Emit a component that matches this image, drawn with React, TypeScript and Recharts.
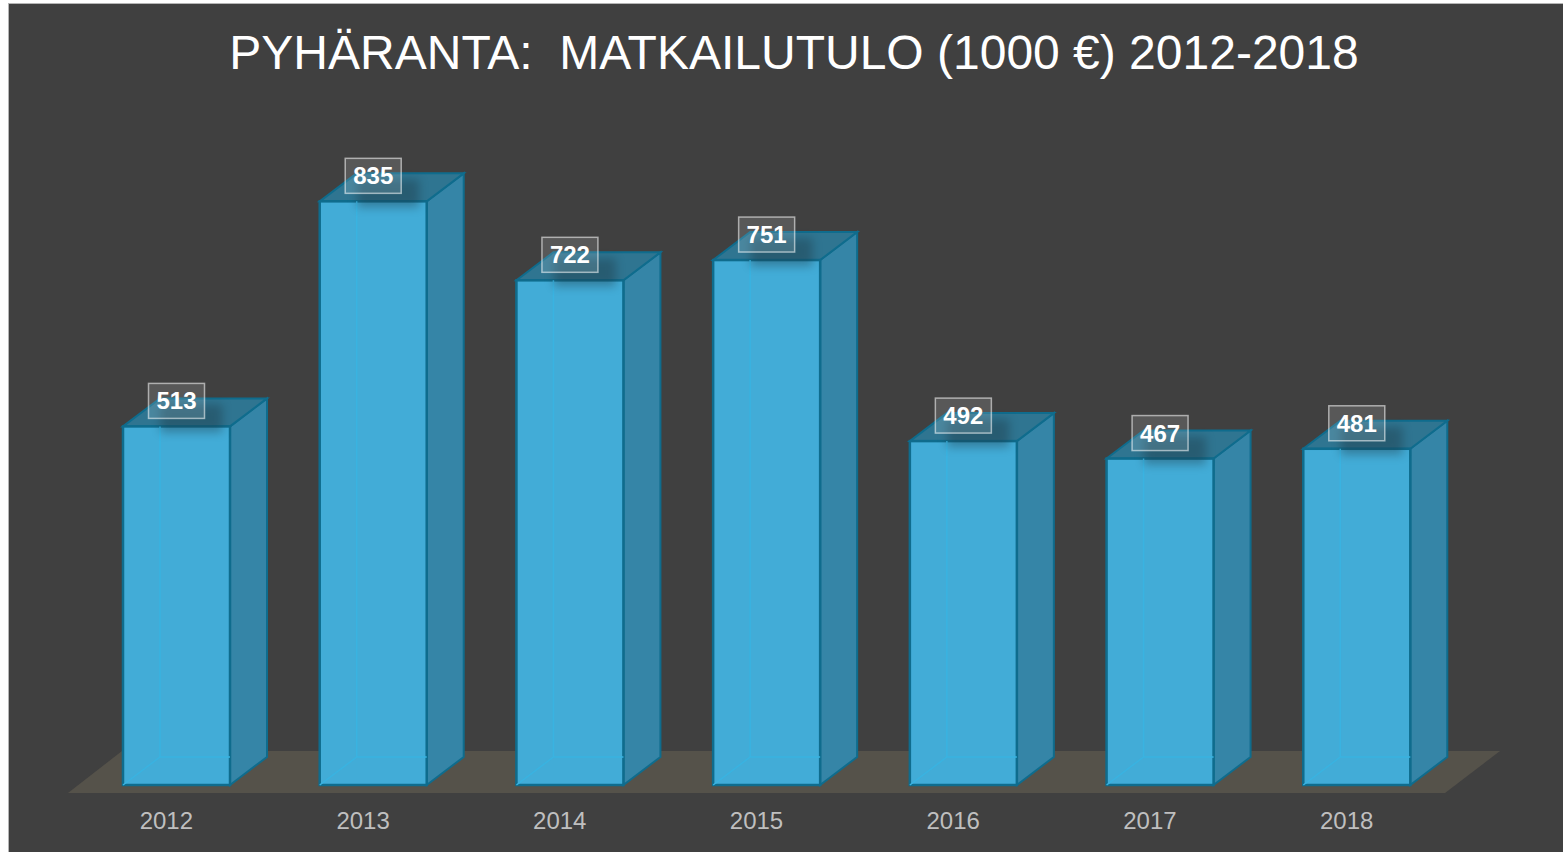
import { Bar, BarChart, LabelList, XAxis, YAxis, usePlotArea } from "recharts";

const years = ["2012", "2013", "2014", "2015", "2016", "2017", "2018"];
const income = [513, 835, 722, 751, 492, 467, 481];

const data = years.map((year, i) => ({ year, income: income[i] }));

const FONT = '"Liberation Sans", Arial, sans-serif';
const DEPTH_X = 37;
const DEPTH_Y = 28;
// bars sit a little right of the band centre, the floor plane runs under them
const SHIFT_X = 10;

function Floor() {
  const plot = usePlotArea();
  if (!plot) return null;
  const left = plot.x;
  const right = plot.x + plot.width;
  const base = plot.y + plot.height;
  const points = [
    [left, base + 8],
    [right, base + 8],
    [right + 55, base - 34],
    [left + 54, base - 34],
  ]
    .map((p) => p.join(","))
    .join(" ");
  return <polygon points={points} fill="#55524a" />;
}

function Box3D(props: any) {
  const x = props.x + SHIFT_X;
  const { y, width, height } = props;
  const r = x + width;
  const b = y + height;
  const edge = "#0f6c8d";
  return (
    <g>
      <polygon
        points={`${r},${y} ${r + DEPTH_X},${y - DEPTH_Y} ${r + DEPTH_X},${b - DEPTH_Y} ${r},${b}`}
        fill="#3585a7"
        stroke={edge}
        strokeWidth={2}
      />
      <polygon
        points={`${x},${y} ${x + DEPTH_X},${y - DEPTH_Y} ${r + DEPTH_X},${y - DEPTH_Y} ${r},${y}`}
        fill="#2f7591"
        stroke={edge}
        strokeWidth={2}
      />
      <rect x={x} y={y} width={width} height={height} fill="#42acd7" stroke={edge} strokeWidth={2.5} />
      <path
        d={`M${x + DEPTH_X} ${y} V${b - DEPTH_Y} H${r} M${x + DEPTH_X} ${b - DEPTH_Y} L${x} ${b}`}
        fill="none"
        stroke="#39b3e1"
        strokeWidth={1.5}
      />
    </g>
  );
}

function ValueTag(props: any) {
  const { x, y, width, value } = props;
  const cx = x + SHIFT_X + width / 2;
  return (
    <g>
      <rect
        x={cx - 16}
        y={y - 22}
        width={62}
        height={28}
        fill="#1c3440"
        opacity={0.38}
        style={{ filter: "blur(5px)" }}
      />
      <rect
        x={cx - 28}
        y={y - 43}
        width={56}
        height={35}
        fill="#ffffff"
        fillOpacity={0.13}
        stroke="#ffffff"
        strokeOpacity={0.55}
        strokeWidth={1.5}
      />
      <text
        x={cx}
        y={y - 25.5}
        textAnchor="middle"
        dominantBaseline="central"
        fill="#ffffff"
        fontFamily={FONT}
        fontSize={24}
        fontWeight="bold"
      >
        {value}
      </text>
    </g>
  );
}

export default function App() {
  return (
    <div style={{ position: "absolute", left: 0, top: 0, width: 1563, height: 852, background: "#ffffff", overflow: "hidden" }}>
      <div
        style={{
          position: "absolute",
          left: 8,
          top: 3,
          width: 1555,
          height: 849,
          boxSizing: "border-box",
          background: "#404040",
          borderLeft: "1px solid #b5b5b5",
          borderTop: "1px solid #b5b5b5",
        }}
      />
      <div
        style={{
          position: "absolute",
          left: 0,
          top: 25,
          width: 1588,
          textAlign: "center",
          color: "#ffffff",
          fontFamily: FONT,
          fontSize: 48,
          lineHeight: "56px",
          whiteSpace: "pre",
        }}
      >
        PYHÄRANTA:  MATKAILUTULO (1000 €) 2012-2018
      </div>
      <div style={{ position: "absolute", left: 0, top: 0 }}>
        <BarChart
          width={1563}
          height={852}
          data={data}
          margin={{ left: 68, right: 118, top: 86, bottom: 0 }}
        >
          <Floor />
          <XAxis
            dataKey="year"
            axisLine={false}
            tickLine={false}
            tickMargin={21}
            height={67}
            tick={{ fill: "#bfbfbf", fontSize: 24, fontFamily: FONT }}
          />
          <YAxis hide domain={[0, 1000]} />
          <Bar dataKey="income" barSize={107} shape={Box3D} isAnimationActive={false}>
            <LabelList dataKey="income" content={ValueTag} />
          </Bar>
        </BarChart>
      </div>
    </div>
  );
}
